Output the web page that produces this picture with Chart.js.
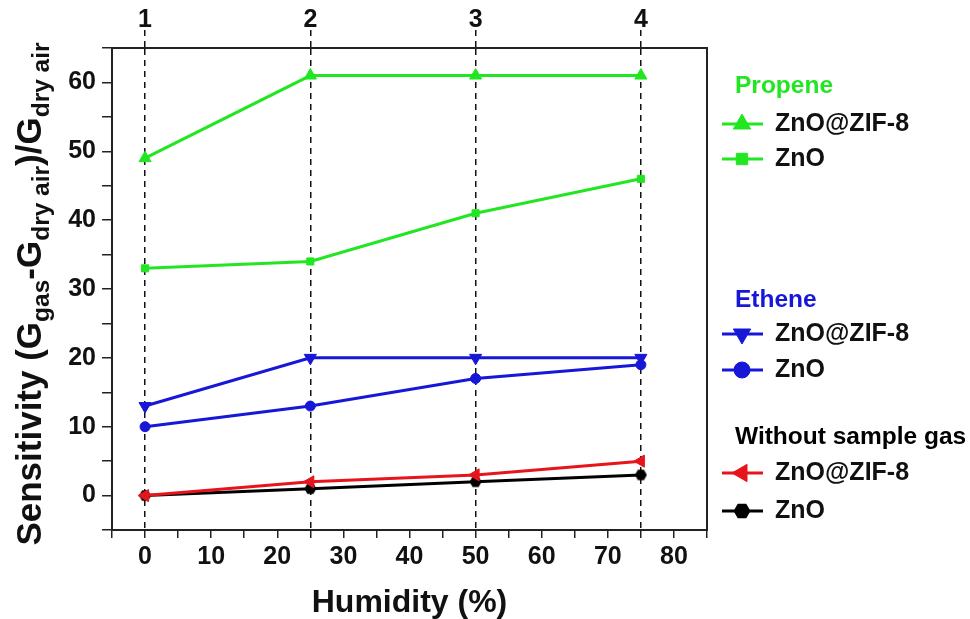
<!DOCTYPE html>
<html>
<head>
<meta charset="utf-8">
<script src="https://cdn.jsdelivr.net/npm/chart.js@4.4.0/dist/chart.umd.min.js"></script>
<style>
html, body { margin: 0; padding: 0; background: #fff; }
canvas { display: block; }
</style>
</head>
<body>
<canvas id="sensChart" width="970" height="619"></canvas>
<script>
// humidity levels (%) and the sample numbers shown on the top axis
const humidity = [0, 25, 50, 75];
const sampleLabels = ['1', '2', '3', '4'];

// sensitivity values
const propeneZif = [49, 61, 61, 61];
const propeneZnO = [33, 34, 41, 46];
const etheneZif = [13, 20, 20, 20];
const etheneZnO = [10, 13, 17, 19];
const blankZif = [0, 2, 3, 5];
const blankZnO = [0, 1, 2, 3];

// labelled ticks
const xTickLabels = [0, 10, 20, 30, 40, 50, 60, 70, 80];
const yTickLabels = [0, 10, 20, 30, 40, 50, 60];

const GREEN = '#22e622';
const BLUE = '#1717d8';
const RED = '#e8141c';
const BLACK = '#000000';
const FONT = '"Liberation Sans", Arial, sans-serif';

// black hexagon marker (no built-in style for it)
function makeHexagon(size, color) {
    const c = document.createElement('canvas');
    c.width = size; c.height = size;
    const g = c.getContext('2d');
    const r = size / 2;
    g.beginPath();
    for (let i = 0; i < 6; i++) {
        const a = Math.PI / 3 * i;
        const px = r + (r - 0.5) * Math.cos(a);
        const py = r + (r - 0.5) * Math.sin(a);
        if (i === 0) g.moveTo(px, py); else g.lineTo(px, py);
    }
    g.closePath();
    g.fillStyle = color;
    g.fill();
    return c;
}
const hexSmall = makeHexagon(13, BLACK);
const hexLegend = makeHexagon(18, BLACK);

function toPoints(values) {
    return humidity.map((h, i) => ({ x: h, y: values[i] }));
}

function series(label, values, color, style, radius, rotation) {
    return {
        label: label,
        data: toPoints(values),
        borderColor: color,
        backgroundColor: color,
        borderWidth: 3,
        pointStyle: style,
        pointRadius: radius,
        pointRotation: rotation || 0,
        pointBorderWidth: 1,
        pointBorderColor: color,
        pointBackgroundColor: color,
        tension: 0
    };
}

const datasets = [
    series('ZnO@ZIF-8', propeneZif, GREEN, 'triangle', 7),
    series('ZnO', propeneZnO, GREEN, 'rect', 5),
    series('ZnO@ZIF-8', etheneZif, BLUE, 'triangle', 7, 180),
    series('ZnO', etheneZnO, BLUE, 'circle', 5),
    series('ZnO@ZIF-8', blankZif, RED, 'triangle', 7, -90),
    series('ZnO', blankZnO, BLACK, hexSmall, 6)
];

// legend on the right, grouped by gas
const legendGroups = [
    { title: 'Propene', color: GREEN, titleY: 86, rows: [[0, 124], [1, 159]] },
    { title: 'Ethene', color: BLUE, titleY: 300, rows: [[2, 334], [3, 370]] },
    { title: 'Without sample gas', color: BLACK, titleY: 437, rows: [[4, 473], [5, 511]] }
];

const sidePlugin = {
    id: 'sidePlugin',
    afterDraw(chart) {
        const ctx = chart.ctx;
        const area = chart.chartArea;

        // right side of the frame
        ctx.save();
        ctx.strokeStyle = '#222';
        ctx.lineWidth = 2;
        ctx.beginPath();
        ctx.moveTo(area.right, area.top - 1);
        ctx.lineTo(area.right, area.bottom + 1);
        ctx.stroke();
        ctx.restore();

        // legend
        ctx.save();
        ctx.textBaseline = 'middle';
        ctx.textAlign = 'left';
        legendGroups.forEach(grp => {
            ctx.font = 'bold 24.5px ' + FONT;
            ctx.fillStyle = grp.color;
            ctx.fillText(grp.title, 735, grp.titleY);
            grp.rows.forEach(([idx, y]) => {
                const ds = chart.data.datasets[idx];
                ctx.strokeStyle = ds.borderColor;
                ctx.lineWidth = 3;
                ctx.beginPath();
                ctx.moveTo(722, y);
                ctx.lineTo(763, y);
                ctx.stroke();
                ctx.fillStyle = ds.pointBackgroundColor;
                ctx.strokeStyle = ds.pointBorderColor;
                ctx.lineWidth = 1;
                const style = ds.pointStyle === hexSmall ? hexLegend : ds.pointStyle;
                Chart.helpers.drawPoint(ctx, {
                    pointStyle: style,
                    rotation: ds.pointRotation,
                    radius: ds.pointRadius + 3,
                    borderWidth: 1
                }, 742, y);
                ctx.font = 'bold 25px ' + FONT;
                ctx.fillStyle = '#111';
                ctx.fillText(ds.label, 775, y);
            });
        });
        ctx.restore();

        // y axis title with subscripts
        const parts = [
            ['Sensitivity (G', false], ['gas', true], ['-G', false],
            ['dry air', true], [')/G', false], ['dry air', true]
        ];
        const mainFont = 'bold 35px ' + FONT;
        const subFont = 'bold 24.5px ' + FONT;
        ctx.save();
        let total = 0;
        parts.forEach(([t, sub]) => {
            ctx.font = sub ? subFont : mainFont;
            total += ctx.measureText(t).width;
        });
        ctx.translate(29, 294);
        ctx.rotate(-Math.PI / 2);
        ctx.fillStyle = '#111';
        ctx.textBaseline = 'alphabetic';
        ctx.textAlign = 'left';
        let x = -total / 2;
        parts.forEach(([t, sub]) => {
            ctx.font = sub ? subFont : mainFont;
            ctx.fillText(t, x, sub ? 20 : 12);
            x += ctx.measureText(t).width;
        });
        ctx.restore();
    }
};

const ctx = document.getElementById('sensChart').getContext('2d');
new Chart(ctx, {
    type: 'line',
    data: { datasets: datasets },
    options: {
        responsive: false,
        animation: false,
        layout: { padding: { left: 0, top: 0, right: 263, bottom: 0 } },
        plugins: { legend: { display: false }, tooltip: { enabled: false } },
        scales: {
            x: {
                type: 'linear',
                position: 'bottom',
                min: -5,
                max: 85,
                afterFit: s => { s.height = 89; },
                ticks: {
                    stepSize: 5,
                    autoSkip: false,
                    maxRotation: 0,
                    padding: 4,
                    color: '#111',
                    font: { family: FONT, size: 25, weight: 'bold' },
                    callback: v => xTickLabels.includes(v) ? String(v) : ''
                },
                grid: { drawOnChartArea: false, color: '#222', lineWidth: 1.5, tickLength: 8 },
                border: { display: true, color: '#222', width: 2 },
                title: {
                    display: true,
                    text: 'Humidity (%)',
                    color: '#111',
                    font: { family: FONT, size: 32, weight: 'bold' },
                    padding: { top: 0, bottom: -3 }
                }
            },
            xTop: {
                type: 'linear',
                position: 'top',
                min: -5,
                max: 85,
                afterFit: s => { s.height = 48; },
                afterBuildTicks: s => { s.ticks = humidity.map(v => ({ value: v })); },
                ticks: {
                    autoSkip: false,
                    maxRotation: 0,
                    padding: -5,
                    color: '#111',
                    font: { family: FONT, size: 25, weight: 'bold' },
                    callback: (v, i) => sampleLabels[i]
                },
                grid: {
                    drawOnChartArea: true,
                    color: '#111',
                    lineWidth: 1.5,
                    tickLength: 18,
                    tickBorderDash: [6, 5]
                },
                border: { display: true, color: '#222', width: 2, dash: [6, 5] }
            },
            y: {
                type: 'linear',
                min: -5,
                max: 65,
                afterFit: s => { s.width = 112; },
                ticks: {
                    stepSize: 5,
                    autoSkip: false,
                    padding: 6,
                    color: '#111',
                    font: { family: FONT, size: 25, weight: 'bold' },
                    callback: v => yTickLabels.includes(v) ? String(v) : ''
                },
                grid: { drawOnChartArea: false, color: '#222', lineWidth: 1.5, tickLength: 10 },
                border: { display: true, color: '#222', width: 2 }
            }
        }
    },
    plugins: [sidePlugin]
});
</script>
</body>
</html>
